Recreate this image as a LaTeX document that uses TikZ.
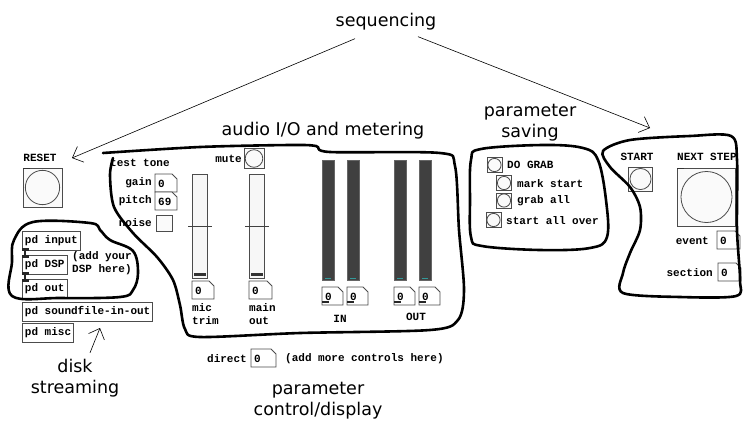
\documentclass[tikz,border=0pt]{standalone}
\usepackage{fontspec}
\setmainfont{DejaVu Sans}
\newfontfamily\pdfont{Liberation Mono}
\usetikzlibrary{arrows.meta}
% bang: square with a circle in it
\newcommand{\pdbang}[4]{%
  \node[bangbox, minimum size=#4] (#1) at (#2,#3) {};
  \draw[pdline] (#1.center) circle [radius=0.44*#4];}
% number box: name, left, top, width, value
\newcommand{\pdnum}[5]{%
  \draw[pdline, fill=white] (#2,#3) -- ++(#4-5,0) -- ++(5,5) -- ++(0,13) -- ++(-#4,0) -- cycle;
  \node[pdtext, anchor=west] (#1) at (#2+3,#3+9.5) {#5};}
\begin{document}
\begin{tikzpicture}[x=1pt, y=-1pt,
  hand/.style={line width=2.6pt, line join=round, line cap=round},
  note/.style={font=\fontsize{17.5}{21}\selectfont, inner sep=0pt},
  pointer/.style={line width=0.6pt, -{Straight Barb[length=9pt, width=17pt]}},
  pdtext/.style={font=\pdfont\bfseries\fontsize{11}{13}\selectfont, inner sep=0pt},
  pdline/.style={draw=black!70, line width=0.8pt},
  pdbox/.style={pdtext, pdline, anchor=north west, inner xsep=2.5pt, minimum height=19pt},
  bangbox/.style={pdline, fill=black!2, inner sep=0pt},
  slider/.style={pdline, fill=black!3, anchor=north west, minimum width=15pt, minimum height=104pt, inner sep=0pt},
  meter/.style={draw=black!60, fill=black!75, anchor=north west, minimum width=12pt, minimum height=120pt, inner sep=0pt},
  wire/.style={line width=2pt, black!85}]
\useasboundingbox (0,0) rectangle (746,421);

% annotations
\node[note] (seq) at (386,22) {sequencing};
\node[note] (audio) at (323,131) {audio I/O and metering};
\node[note, align=center] (saving) at (530,123) {parameter\\saving};
\node[note, align=center] (disk) at (75,378) {disk\\streaming};
\node[note, align=center] (control) at (318,401) {parameter\\control/display};
\coordinate (resettip) at (72,158);
\coordinate (starttip) at (650,128);
\coordinate (sftip) at (100,328);
\draw[pointer] ([xshift=-31pt, yshift=-8pt]seq.south) -- (resettip);
\draw[pointer] ([xshift=32pt, yshift=-6pt]seq.south) -- (starttip);
\draw[pointer] ([xshift=15pt, yshift=6pt]disk.north) -- (sftip);

% reset + subpatches
\node[pdtext] (reset) at (40,158) {RESET};
\pdbang{resetbang}{42.5}{187.5}{39}
\fill[black!80] (resetbang.north west) rectangle ++(7,1.5);
\node[pdbox] (pdin) at (22,231) {pd input};
\node[pdbox] (pddsp) at (22,255) {pd DSP};
\node[pdbox] (pdout) at (22,279) {pd out};
\node[pdbox] (pdsf) at (22,302) {pd soundfile-in-out};
\node[pdbox] (pdmisc) at (22,323) {pd misc};
\draw[wire] ([xshift=3pt]pdin.south west) -- ([xshift=3pt]pddsp.north west);
\draw[wire] ([xshift=3pt]pddsp.south west) -- ([xshift=3pt]pdout.north west);
\fill[black!85] (pdin.south west) rectangle ++(7,-2.5);
\fill[black!85] (pddsp.north west) rectangle ++(7,2.5);
\fill[black!85] (pddsp.south west) rectangle ++(7,-2.5);
\fill[black!85] (pdout.north west) rectangle ++(7,2.5);
\node[pdtext, align=left, anchor=north west] (dspnote) at (72,251) {(add your\\DSP here)};

% test tone and levels
\node[pdtext, anchor=west] (tone) at (110,163) {test tone};
\node[pdtext, anchor=east] (gainlab) at (152,183) {gain};
\node[pdtext, anchor=east] (pitchlab) at (152,201) {pitch};
\node[pdtext, anchor=east] (noiselab) at (152,223) {noise};
\pdnum{gain}{155}{174}{22}{0}
\pdnum{pitch}{155}{192}{22}{69}
\node[pdline, fill=black!2, anchor=north west, minimum size=15.5pt, inner sep=0pt] (noise) at (156,215) {};
\node[pdtext, anchor=east] (mutelab) at (242,159) {mute};
\pdbang{mute}{254}{158.5}{20}

\node[slider] (mic) at (192,174) {};
\node[slider] (main) at (249,174) {};
\foreach \s in {mic, main} {
  \fill[black!80] ([xshift=1.5pt, yshift=3pt]\s.south west) rectangle ([xshift=-1.5pt, yshift=6pt]\s.south east);
  \draw[black!75, line width=0.8pt] ([xshift=-4pt]\s.west) -- ([xshift=4pt]\s.east);
}
\pdnum{micnum}{192}{281}{22}{0}
\pdnum{mainnum}{249}{281}{23}{0}
\node[pdtext, align=left, anchor=north west] (miclab) at (192,303) {mic\\trim};
\node[pdtext, align=left, anchor=north west] (mainlab) at (249,303) {main\\out};

% meters
\foreach \n/\x in {inl/322, inr/347, outl/394, outr/419} {
  \node[meter] (\n) at (\x,160) {};
  \draw[teal!80, line width=0.8pt] ([xshift=3pt, yshift=2pt]\n.south west) -- ([xshift=-3pt, yshift=2pt]\n.south east);
  \pdnum{\n num}{\x}{287}{21}{0}
  \fill[black!85] (\x,303) rectangle ++(7,-2.5);
}
\node[pdtext] (inlab) at (340,319) {IN};
\node[pdtext] (outlab) at (416,317) {OUT};

\node[pdtext, anchor=east] (directlab) at (247,359) {direct};
\pdnum{direct}{251}{349}{25}{0}
\node[pdtext, anchor=west] (morenote) at (285,359) {(add more controls here)};

% parameter saving
\pdbang{dograb}{494.5}{165}{15}
\pdbang{markstart}{504}{183}{15}
\pdbang{graball}{504}{200.5}{15}
\pdbang{startover}{493.5}{220}{15}
\node[pdtext, anchor=west] (dograblab) at (507,165) {DO GRAB};
\node[pdtext, anchor=west] (marklab) at (517,184) {mark start};
\node[pdtext, anchor=west] (graballlab) at (517,201) {grab all};
\node[pdtext, anchor=west] (overlab) at (506,221) {start all over};

% sequencing
\node[pdtext] (startlab) at (637,157) {START};
\node[pdtext, anchor=west] (nextlab) at (677,157) {NEXT STEP};
\pdbang{start}{640.5}{179}{24}
\pdbang{next}{706.5}{197}{58}
\fill[black!80] (next.north west) rectangle ++(7,1.5);
\node[pdtext, anchor=east] (eventlab) at (709,241) {event};
\pdnum{event}{717}{231}{23}{0}
\node[pdtext, anchor=east] (sectionlab) at (713,273) {section};
\pdnum{section}{718}{263}{23}{0}

% hand drawn groups
\draw[hand] plot[smooth cycle, tension=0.6] coordinates {(12,262) (14,240) (33,222) (90,223) (100,230) (110,240) (133,251) (138,273) (133,290) (120,297) (60,298) (12,296)};
\draw[hand] plot[smooth, tension=0.5] coordinates {(103,153) (200,147) (290,145) (316,146) (330,152) (440,153) (455,166) (459,230) (464,290) (458,320) (430,330) (300,333) (200,337) (185,329) (180,305) (173,280) (157,257) (133,233) (114,207) (110,175) (113,158)};
\draw[hand] plot[smooth cycle, tension=0.6] coordinates {(470,200) (471,160) (481,149) (543,145) (583,148) (598,160) (606,200) (607,237) (590,248) (540,250) (482,246) (471,237)};
\draw[hand] plot[smooth cycle, tension=0.5] coordinates {(603,151) (630,140) (690,136) (731,136) (737,160) (737,230) (740,280) (736,296) (680,297) (623,293) (623,273) (630,253) (640,230) (640,207) (630,187) (610,167)};
\end{tikzpicture}
\end{document}
